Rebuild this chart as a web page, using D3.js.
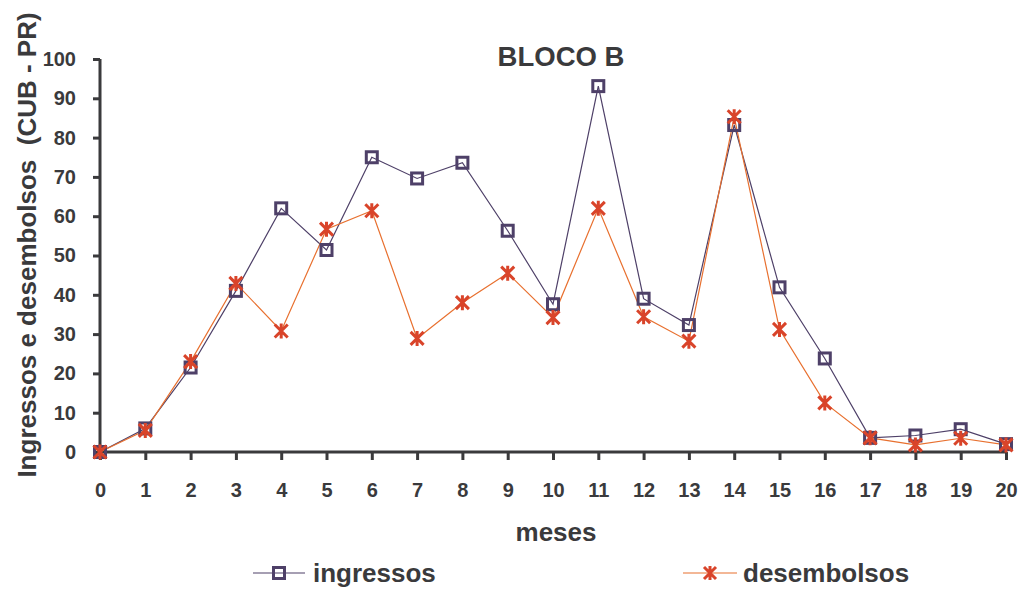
<!DOCTYPE html>
<html><head><meta charset="utf-8">
<script src="https://cdn.jsdelivr.net/npm/d3@7"></script>
<style>body{margin:0;background:#fff}svg{display:block}text{font-family:"Liberation Sans",Arial,sans-serif;font-weight:bold;fill:#3a3a3c;white-space:pre}</style>
</head><body><svg id="c" width="1022" height="590"></svg>
<script>
const months = d3.range(0, 21);
const ingressos = [0, 6, 21.5, 41, 62, 51.4, 75, 69.6, 73.6, 56.3, 37.6, 93.1, 39, 32.3, 83.2, 41.9, 23.8, 3.6, 4.2, 5.8, 2];
const desembolsos = [0, 5.5, 23, 42.9, 30.8, 56.7, 61.4, 28.9, 38, 45.5, 34.2, 62, 34.4, 28.2, 85.3, 31.2, 12.5, 3.6, 1.8, 3.5, 1.8];
const yTicks = [0,10,20,30,40,50,60,70,80,90,100];
const title = "BLOCO B";

const svg = d3.select("#c");
const x = d3.scaleLinear().domain([0,20]).range([100,1006]);
const y = d3.scaleLinear().domain([0,100]).range([452,59]);
const axisColor = "#3a3a3c";

// axes
const gx = svg.append("g").attr("transform","translate(0,452)")
  .call(d3.axisBottom(x).tickValues(months).tickSize(8).tickPadding(23).tickFormat(d3.format("d")));
const gy = svg.append("g").attr("transform","translate(100,0)")
  .call(d3.axisLeft(y).tickValues(yTicks).tickSize(7).tickPadding(17));
[gx,gy].forEach(g=>{
  g.select(".domain").attr("stroke",axisColor).attr("stroke-width",3);
  g.selectAll(".tick line").attr("stroke",axisColor).attr("stroke-width",3);
  g.selectAll(".tick text").attr("fill",axisColor).style("font-size","20px").style("font-weight","bold").style("font-family","'Liberation Sans',Arial,sans-serif");
});
gx.select(".domain").attr("d","M100,0H1006");
gy.select(".domain").attr("d","M0,452V59");

// lines
const line = d3.line().x((d,i)=>x(months[i])).y(d=>y(d));
const cIng = "#4e4068", cDesLine = "#e8702f", cDesMark = "#d9442a";
svg.append("path").datum(ingressos).attr("d",line).attr("fill","none").attr("stroke",cIng).attr("stroke-width",1.2);
svg.append("path").datum(desembolsos).attr("d",line).attr("fill","none").attr("stroke",cDesLine).attr("stroke-width",1.2);

function square(g, cx, cy, s){
  g.append("rect").attr("x",cx-s/2).attr("y",cy-s/2).attr("width",s).attr("height",s)
    .attr("fill","none").attr("stroke",cIng).attr("stroke-width",3);
}
function star(g, cx, cy, r){
  const p = `M${cx-r},${cy-r}L${cx+r},${cy+r}M${cx-r},${cy+r}L${cx+r},${cy-r}M${cx},${cy-r-1}L${cx},${cy+r+1}`;
  g.append("path").attr("d",p).attr("stroke",cDesMark).attr("stroke-width",3).attr("fill","none");
}
const gm = svg.append("g");
ingressos.forEach((v,i)=>square(gm, x(months[i]), y(v), 11));
const gs = svg.append("g");
desembolsos.forEach((v,i)=>star(gs, x(months[i]), y(v), 6.5));

// title and labels
svg.append("text").attr("x",561).attr("y",66).attr("text-anchor","middle").style("font-size","27.5px").text(title);
svg.append("text").attr("x",556).attr("y",541).attr("text-anchor","middle").style("font-size","26px").text("meses");
svg.append("text").attr("transform","translate(36,245) rotate(-90)").attr("text-anchor","middle").style("font-size","26px").text("Ingressos e desembolsos  (CUB - PR)");

// legend
const ly = 573;
svg.append("line").attr("x1",253).attr("x2",305).attr("y1",ly).attr("y2",ly).attr("stroke",cIng).attr("stroke-width",1.2);
square(svg, 279, ly, 11);
svg.append("text").attr("x",313).attr("y",582).style("font-size","26px").text("ingressos");
svg.append("line").attr("x1",683).attr("x2",737).attr("y1",ly).attr("y2",ly).attr("stroke",cDesLine).attr("stroke-width",1.2);
star(svg, 710, ly, 6);
svg.append("text").attr("x",743).attr("y",582).style("font-size","26px").text("desembolsos");
</script></body></html>
